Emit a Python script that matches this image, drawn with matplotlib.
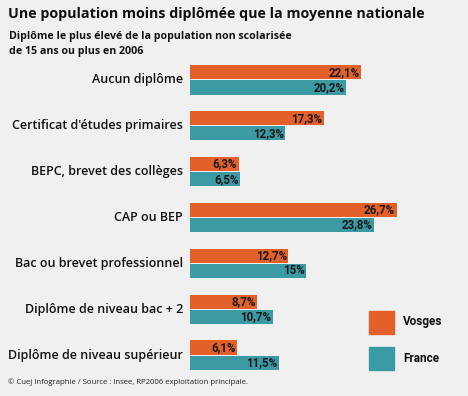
import matplotlib.pyplot as plt
from matplotlib.patches import Rectangle

# Data
categories = ["Aucun diplôme", "Certificat d'études primaires", "BEPC, brevet des collèges",
              "CAP ou BEP", "Bac ou brevet professionnel", "Diplôme de niveau bac + 2",
              "Diplôme de niveau supérieur"]
vosges = [22.1, 17.3, 6.3, 26.7, 12.7, 8.7, 6.1]
france = [20.2, 12.3, 6.5, 23.8, 15.0, 10.7, 11.5]
series_names = ["Vosges", "France"]

bg = "#f0f0f0"
c_vosges = "#e4602b"
c_france = "#3b9aa4"

def fmt(v):
    s = ("%.1f" % v).replace(".", ",")
    if s.endswith(",0"):
        s = s[:-2]
    return s + "%"

fig = plt.figure(figsize=(4.68, 3.96), dpi=100, facecolor=bg)
ax = fig.add_axes([190 / 468, 1 - 378 / 396, 278 / 468, 321 / 396])
ax.set_facecolor(bg)
ax.set_xlim(0, 278 / 7.74)
ax.set_ylim(6.5, -0.5)
ax.axis("off")

h = 0.31
off = 0.165
for i, (v, f) in enumerate(zip(vosges, france)):
    ax.barh(i - off, v, height=h, color=c_vosges)
    ax.barh(i + off, f, height=h, color=c_france)
    ax.text(v - 0.2, i - off, fmt(v), ha="right", va="center", fontsize=8.3,
            fontweight="bold", family="Roboto", color="#1a1a1a")
    ax.text(f - 0.2, i + off, fmt(f), ha="right", va="center", fontsize=8.3,
            fontweight="bold", family="Roboto", color="#1a1a1a")
    ax.text(-0.9, i, categories[i], ha="right", va="center", fontsize=9.0,
            family="Open Sans", fontweight="semibold", color="#111111")

# Titles
fig.text(8 / 468, 1 - 14 / 396, "Une population moins diplômée que la moyenne nationale",
         fontsize=10.3, fontweight="bold", family="Open Sans", va="center", color="#111111")
fig.text(9 / 468, 1 - 44 / 396, "Diplôme le plus élevé de la population non scolarisée\nde 15 ans ou plus en 2006",
         fontsize=7.7, fontweight="bold", family="Open Sans", va="center", linespacing=1.6,
         color="#111111")

# Legend
for k, (name, col, yc) in enumerate(zip(series_names, [c_vosges, c_france], [322, 358])):
    fig.patches.append(Rectangle((369 / 468, 1 - (yc + 11.5) / 396), 25 / 468, 23 / 396,
                                 transform=fig.transFigure, color=col))
    fig.text(403 / 468, 1 - yc / 396, name, fontsize=8.5, fontweight="bold",
             family="Roboto", va="center", color="#111111")

fig.text(8 / 468, 1 - 382 / 396, "© Cuej Infographie / Source : Insee, RP2006 exploitation principale.",
         fontsize=5.6, family="Open Sans", va="center", color="#222222")

fig.savefig("out.png", dpi=100, facecolor=bg)
